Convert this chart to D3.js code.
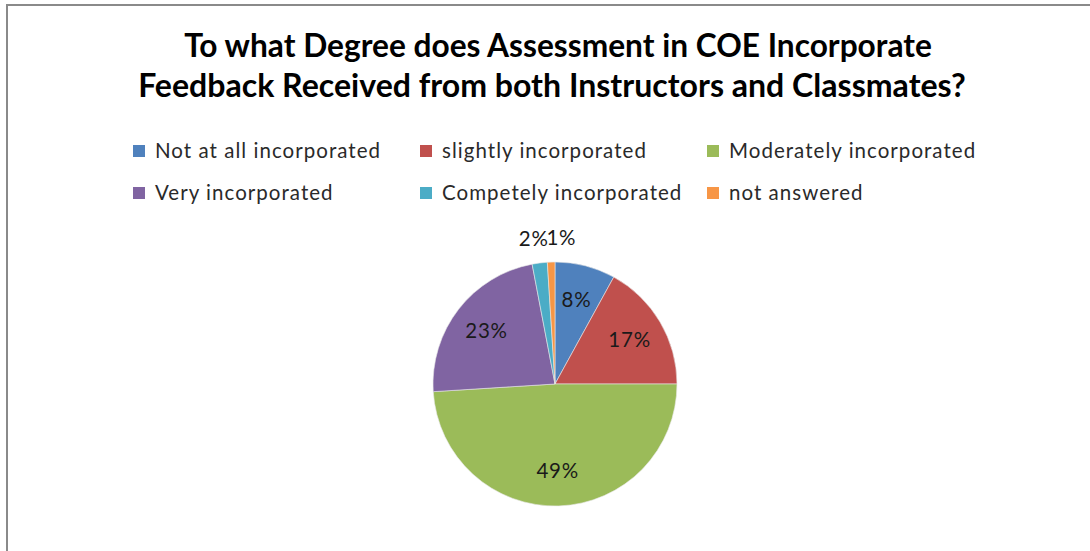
<!DOCTYPE html>
<html>
<head>
<meta charset="utf-8">
<script src="https://cdn.jsdelivr.net/npm/d3@7"></script>
<style>
  html, body { margin: 0; padding: 0; background: #fff; }
  svg { display: block; }
</style>
</head>
<body>
<svg id="chart" width="1090" height="551"></svg>
<script>
const titleLines = ["To what Degree does Assessment in COE Incorporate",
                    "Feedback Received from both Instructors and Classmates?"];
const categories = ["Not at all incorporated", "slightly incorporated", "Moderately incorporated",
                    "Very incorporated", "Competely incorporated", "not answered"];
const values = [8, 17, 49, 23, 2, 1];
const colors = ["#4F81BD", "#C0504D", "#9BBB59", "#8064A2", "#4BACC6", "#F79646"];

const svg = d3.select("#chart");
const FONT = "Lato, 'Open Sans', sans-serif";

// outer border (open on right and bottom, as in the reference)
svg.append("rect").attr("x", 7).attr("y", 5).attr("width", 1200).attr("height", 700)
  .attr("fill", "#fff").attr("stroke", "#8a8a8a").attr("stroke-width", 2);

// title
const titleWidths = [748, 828];
const titleCenters = [558, 552];
titleLines.forEach((t, i) => {
  const el = svg.append("text")
    .attr("x", titleCenters[i]).attr("y", 57 + i * 40)
    .attr("text-anchor", "middle")
    .attr("font-family", FONT).attr("font-weight", "bold")
    .attr("font-size", 28).attr("fill", "#000").text(t);
  const w = el.node().getComputedTextLength();
  el.attr("font-size", 28 * titleWidths[i] / w);
});

// legend
const legendX = [133, 420, 707];
const legendY = [158, 200];
const legend = svg.append("g");
const legendTexts = [];
categories.forEach((c, i) => {
  const col = i % 3, row = Math.floor(i / 3);
  const g = legend.append("g").attr("transform", `translate(${legendX[col]},${legendY[row]})`);
  g.append("rect").attr("x", 0).attr("y", -13).attr("width", 12).attr("height", 12)
    .attr("fill", colors[i]);
  legendTexts.push(g.append("text").attr("x", 22).attr("y", 0)
    .attr("font-family", FONT).attr("font-size", 20.5).attr("fill", "#2a2a2a").text(c));
});
// widen letter spacing so the first entry spans its reference width
{
  const w0 = legendTexts[0].node().getComputedTextLength();
  const ls = (225 - w0) / (categories[0].length - 1);
  legendTexts.forEach(t => t.attr("letter-spacing", ls));
}

// pie
const cx = 555, cy = 384, r = 122;
const pie = d3.pie().value(d => d).sort(null);
const arcs = pie(values);
const arc = d3.arc().innerRadius(0).outerRadius(r);
const labelArc = d3.arc().innerRadius(r * 0.71).outerRadius(r * 0.71);
const outerArc = d3.arc().innerRadius(r + 24).outerRadius(r + 24);
const color = d3.scaleOrdinal().domain(categories).range(colors);

const pg = svg.append("g").attr("transform", `translate(${cx},${cy})`);
pg.selectAll("path").data(arcs).enter().append("path")
  .attr("d", arc)
  .attr("fill", (d, i) => color(categories[i]))
  .attr("stroke", "#e8e8e8").attr("stroke-width", 0.6);

pg.selectAll("text.lbl").data(arcs).enter().append("text")
  .attr("class", "lbl")
  .attr("transform", d => {
    const p = (d.value >= 5 ? labelArc : outerArc).centroid(d);
    return `translate(${p[0]},${p[1]})`;
  })
  .attr("dy", "0.35em")
  .attr("text-anchor", (d) => d.value >= 5 ? "middle" : (d.index === 4 ? "end" : "start"))
  .attr("dx", d => d.value >= 5 ? 0 : (d.index === 4 ? 12 : -4))
  .attr("font-family", FONT).attr("font-size", 20.5).attr("letter-spacing", 0.8)
  .attr("fill", "#1a1a1a")
  .text(d => d.value + "%");
</script>
</body>
</html>
